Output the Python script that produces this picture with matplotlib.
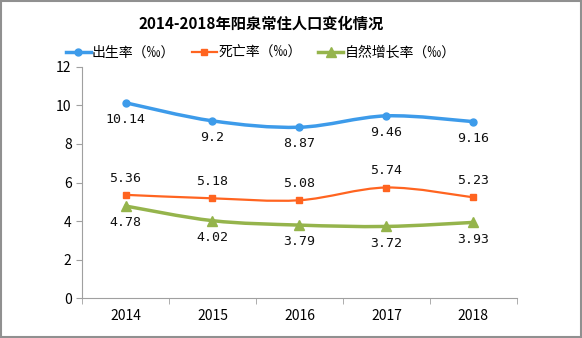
import numpy as np
import matplotlib.pyplot as plt
from matplotlib.path import Path
from matplotlib.patches import PathPatch, Rectangle
from matplotlib.lines import Line2D

plt.rcParams['font.family'] = ['Noto Sans CJK SC', 'DejaVu Sans']

years = ['2014', '2015', '2016', '2017', '2018']
birth = [10.14, 9.2, 8.87, 9.46, 9.16]
death = [5.36, 5.18, 5.08, 5.74, 5.23]
growth = [4.78, 4.02, 3.79, 3.72, 3.93]

c_birth = '#3D9BEA'
c_death = '#FF6420'
c_growth = '#95B44C'


def smooth_path(xs, ys, t=1/6.0):
    # catmull-rom style bezier through the data points
    xs = np.asarray(xs, float)
    ys = np.asarray(ys, float)
    verts = [(xs[0], ys[0])]
    codes = [Path.MOVETO]
    n = len(xs)
    for i in range(n - 1):
        p0 = i - 1 if i > 0 else i
        p3 = i + 2 if i + 2 < n else i + 1
        c1 = (xs[i] + (xs[i + 1] - xs[p0]) * t, ys[i] + (ys[i + 1] - ys[p0]) * t)
        c2 = (xs[i + 1] - (xs[p3] - xs[i]) * t, ys[i + 1] - (ys[p3] - ys[i]) * t)
        verts += [c1, c2, (xs[i + 1], ys[i + 1])]
        codes += [Path.CURVE4] * 3
    return Path(verts, codes)


fig = plt.figure(figsize=(5.82, 3.38), dpi=100)
ax = fig.add_axes([0.141, 0.118, 0.747, 0.684])

x = np.arange(len(years))
series = [
    (birth, c_birth, 'o', 2.5, 5, '出生率（‰）', -1),
    (death, c_death, 's', 1.6, 5, '死亡率（‰）', 1),
    (growth, c_growth, '^', 2.5, 6.5, '自然增长率（‰）', -1),
]
handles = []
for vals, col, mk, lw, ms, lab, pos in series:
    ax.add_patch(PathPatch(smooth_path(x, vals), facecolor='none', edgecolor=col,
                           lw=lw, capstyle='round', zorder=2))
    ax.plot(x, vals, linestyle='none', marker=mk, color=col, markersize=ms, zorder=3)
    for xi, v in zip(x, vals):
        ax.annotate(f'{v:g}', (xi, v), xytext=(0, 12 * pos), textcoords='offset points',
                    ha='center', va='center', fontsize=9.5, color='#111111',
                    family='DejaVu Sans Mono')
    handles.append(Line2D([], [], color=col, lw=lw, marker=mk, markersize=ms, label=lab))

ax.set_xlim(-0.5, len(years) - 0.5)
ax.set_ylim(0, 12)
ax.set_yticks(range(0, 13, 2))
ax.set_xticks(x)
ax.set_xticklabels(years)
ax.set_xticks(np.arange(-0.5, len(years), 1), minor=True)
ax.tick_params(axis='x', which='major', length=0, labelsize=10, pad=8)
ax.tick_params(axis='x', which='minor', length=4, color='#A0A0A0')
ax.tick_params(axis='y', length=4, color='#A0A0A0', labelsize=10)
for s in ['top', 'right']:
    ax.spines[s].set_visible(False)
for s in ['left', 'bottom']:
    ax.spines[s].set_color('#A0A0A0')

fig.text(0.449, 0.93, '2014-2018年阳泉常住人口变化情况', ha='center', va='center',
         fontsize=11, fontweight='bold')
fig.legend(handles=handles, loc='center', bbox_to_anchor=(0.448, 0.845), ncol=3,
           frameon=False, fontsize=10, handlelength=1.8, columnspacing=1.2,
           handletextpad=0.1)

fig.patches.append(Rectangle((0.002, 0.003), 0.996, 0.994, transform=fig.transFigure,
                             fill=False, edgecolor='#909090', lw=1.5))

fig.savefig('out.png', dpi=100)
